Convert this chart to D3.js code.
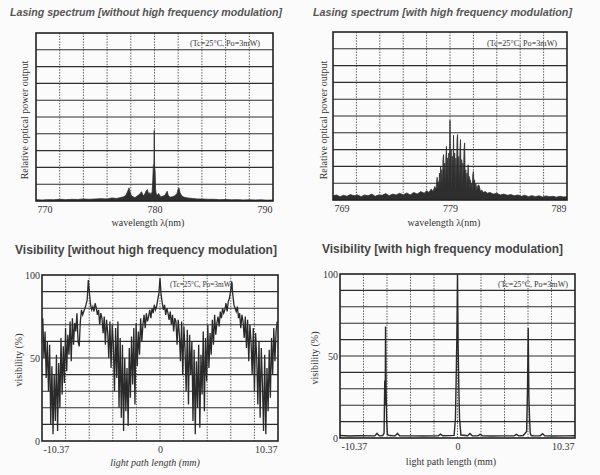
<!DOCTYPE html>
<html>
<head>
<meta charset="utf-8">
<script src="https://cdn.jsdelivr.net/npm/d3@7"></script>
<style>
  body { margin: 0; background: #fbfbfb; }
  svg { display: block; }
  .title { font-family: "Liberation Sans", Arial, sans-serif; font-weight: bold; }
  .lbl { font-family: "Liberation Serif", "Times New Roman", serif; fill: #333; }
</style>
</head>
<body>
<div id="chart"></div>
<script>
// Lasing spectrum / visibility, four panels

////////////////////////////////////////////////////////////////////////////////
// Data

// spectrum without HF modulation: wavelength (nm), relative output (grid units 0-10)
const spec1Wl = [770, 770.5, 771, 771.5, 772, 772.5, 773, 773.5, 774, 774.5, 775, 775.5, 776, 776.4, 776.8,
  777.1, 777.4, 777.6, 777.75, 777.85, 777.95, 778.05, 778.2, 778.35, 778.5, 778.65, 778.8, 778.9, 779.0,
  779.1, 779.2, 779.3, 779.4, 779.5, 779.6, 779.7, 779.8, 779.86, 779.9, 779.95, 779.98, 780.01, 780.05,
  780.09, 780.15, 780.25, 780.35, 780.45, 780.6, 780.75, 780.9, 781.0, 781.07, 781.15, 781.3, 781.5, 781.7,
  781.9, 782.0, 782.06, 782.15, 782.3, 782.5, 782.8, 783.2, 783.6, 784, 784.5, 785, 785.5, 786, 786.5, 787,
  787.5, 788, 788.5, 789, 789.5, 790];
const spec1Pw = [0.08, 0.06, 0.08, 0.07, 0.1, 0.08, 0.1, 0.09, 0.12, 0.1, 0.12, 0.14, 0.12, 0.18, 0.15,
  0.2, 0.25, 0.35, 0.6, 0.78, 0.5, 0.3, 0.25, 0.2, 0.28, 0.35, 0.45, 0.55, 0.4,
  0.3, 0.45, 0.6, 0.68, 0.4, 0.5, 0.35, 0.55, 1.3, 2.1, 2.2, 4.2, 2.0, 1.8,
  0.7, 0.4, 0.35, 0.45, 0.3, 0.25, 0.3, 0.35, 0.5, 0.58, 0.35, 0.22, 0.25, 0.3,
  0.45, 0.7, 0.78, 0.5, 0.3, 0.22, 0.18, 0.15, 0.12, 0.12, 0.1, 0.1, 0.08, 0.09, 0.07, 0.08,
  0.06, 0.07, 0.06, 0.07, 0.05, 0.06];

// spectrum with HF modulation
const spec2Wl = [769.0, 769.3, 769.6, 769.9, 770.2, 770.5, 770.8, 771.1, 771.4, 771.7, 772.0, 772.3, 772.6,
  772.9, 773.2, 773.5, 773.8, 774.1, 774.4, 774.7, 775.0, 775.3, 775.6, 775.9, 776.2, 776.5, 776.8, 777.0,
  777.2, 777.4, 777.55, 777.7, 777.8, 777.9, 777.95, 778.0, 778.05, 778.1, 778.15, 778.2, 778.25, 778.3,
  778.35, 778.4, 778.45, 778.5, 778.55, 778.6, 778.65, 778.7, 778.75, 778.8, 778.85, 778.9, 778.95, 779.0,
  779.05, 779.1, 779.15, 779.2, 779.25, 779.3, 779.35, 779.4, 779.45, 779.5, 779.55, 779.6, 779.65, 779.7,
  779.75, 779.8, 779.85, 779.9, 779.95, 780.0, 780.05, 780.1, 780.15, 780.2, 780.25, 780.3, 780.35, 780.4,
  780.45, 780.5, 780.55, 780.6, 780.65, 780.7, 780.75, 780.8, 780.85, 780.9, 780.95, 781.0, 781.05, 781.1,
  781.15, 781.2, 781.3, 781.4, 781.5, 781.6, 781.7, 781.85, 782.0, 782.2, 782.4, 782.7, 783.0, 783.3, 783.6,
  783.9, 784.2, 784.5, 784.8, 785.1, 785.4, 785.7, 786.0, 786.3, 786.6, 786.9, 787.2, 787.5, 787.8, 788.1,
  788.4, 788.7, 789.0];
const spec2Pw = [0.25, 0.3, 0.2, 0.28, 0.22, 0.32, 0.25, 0.3, 0.2, 0.3, 0.25, 0.35, 0.22,
  0.3, 0.28, 0.38, 0.25, 0.35, 0.3, 0.4, 0.3, 0.42, 0.3, 0.45, 0.35, 0.5, 0.4, 0.55,
  0.45, 0.65, 0.5, 0.8, 0.6, 1.35, 0.7, 1.1, 0.6, 1.6, 0.8, 2.0, 0.9, 1.8,
  0.7, 2.4, 2.7, 1.2, 2.2, 0.8, 2.6, 3.2, 1.4, 2.5, 0.9, 2.8, 1.5, 4.75,
  1.8, 3.0, 0.6, 2.6, 1.2, 3.85, 1.5, 2.8, 0.5, 2.5, 1.0, 3.6, 3.9, 1.2,
  2.6, 0.7, 2.9, 3.6, 1.0, 2.4, 0.6, 2.2, 1.3, 3.0, 3.4, 1.1, 1.8, 0.5,
  1.6, 1.0, 2.1, 0.8, 1.4, 0.6, 1.2, 0.7, 1.0, 0.5, 1.5, 1.7, 0.8, 1.2,
  0.5, 1.0, 0.6, 0.9, 0.85, 0.5, 0.6, 0.45, 0.5, 0.4, 0.45, 0.35, 0.4, 0.3, 0.35,
  0.28, 0.32, 0.25, 0.3, 0.22, 0.28, 0.2, 0.26, 0.2, 0.25, 0.18, 0.24, 0.2, 0.22, 0.17,
  0.22, 0.18, 0.2];

// visibility without HF modulation (%), sampled every 0.1 mm from -10.3 mm
const visStart = -10.3;
const visStep = 0.1;
const visValues = [
  74, 50, 66, 38, 60, 30, 58, 10, 45, 4,
  40, 12, 52, 6, 47, 20, 62, 28, 57, 35,
  68, 42, 64, 52, 72, 48, 74, 58, 71, 66,
  77, 60, 57, 72, 79, 76, 78, 80, 82, 85,
  97, 89, 82, 79, 81, 78, 83, 80, 76, 79,
  70, 77, 74, 65, 75, 58, 73, 66, 50, 72,
  44, 70, 58, 30, 68, 38, 72, 20, 62, 14,
  58, 6, 50, 18, 44, 9, 56, 26, 63, 34,
  68, 22, 71, 45, 66, 52, 74, 60, 70, 76,
  68, 77, 72, 75, 79, 74, 80, 77, 82, 79,
  81, 85, 89, 98, 88, 83, 79, 82, 76, 80,
  77, 73, 78, 70, 76, 66, 74, 72, 58, 73,
  64, 48, 72, 40, 69, 55, 30, 67, 22, 64,
  40, 60, 12, 55, 4, 48, 20, 58, 8, 52,
  28, 66, 18, 62, 36, 70, 44, 65, 52, 73,
  58, 76, 64, 71, 75, 69, 78, 74, 80, 77,
  79, 83, 78, 84, 86, 90, 96, 88, 82, 80,
  78, 81, 74, 77, 68, 76, 72, 62, 75, 56,
  73, 48, 70, 60, 40, 68, 30, 65, 50, 22,
  60, 14, 56, 35, 6, 52, 4, 44, 18, 55,
  26, 62, 40, 68, 48, 66, 72];

// visibility with HF modulation
const vis2X = [-10.37, -9.5, -8.8, -7.3, -7.1, -6.9, -6.6, -6.48, -6.42, -6.38, -6.35, -6.3, -6.25, -6.18,
  -6.0, -5.5, -5.3, -5.1, -4.0, -3.0, -2.0, -1.7, -1.5, -1.3, -0.3, -0.18, -0.12, -0.06, 0, 0.06, 0.12, 0.18,
  0.3, 0.9, 1.1, 1.3, 1.8, 2.0, 2.2, 3.0, 4.0, 5.0, 5.2, 5.4, 5.8, 6.1, 6.18, 6.24, 6.3, 6.36, 6.42, 6.5,
  6.7, 7.3, 7.5, 7.7, 8.5, 9.5, 10.37];
const vis2Y = [1.5, 1.2, 1.4, 1.3, 2.8, 1.3, 1.5, 3, 35, 20, 68, 30, 10, 2,
  1.5, 1.3, 2.8, 1.3, 1.3, 1.2, 1.3, 1.4, 2.4, 1.4, 1.6, 12, 35, 60, 100, 55, 30, 12,
  1.8, 1.4, 2.8, 1.4, 1.3, 2.2, 1.3, 1.2, 1.3, 1.3, 2.2, 1.3, 1.5, 4, 30, 67, 25, 12, 3, 1.5,
  1.4, 1.3, 2.6, 1.3, 1.2, 1.3, 1.4];

////////////////////////////////////////////////////////////////////////////////
// Setup
const svg = d3.select('#chart').append('svg')
  .attr('width', 600)
  .attr('height', 475);

const serif = '"Liberation Serif", "Times New Roman", serif';

function drawPanel (o) {
  const x = d3.scaleLinear().domain(o.xDomain).range([o.left, o.right]);
  const y = d3.scaleLinear().domain(o.yDomain).range([o.bottom, o.top]);
  const g = svg.append('g');

  const clipId = 'clip' + o.id;
  g.append('clipPath').attr('id', clipId)
    .append('rect')
    .attr('x', o.left).attr('y', o.top)
    .attr('width', o.right - o.left).attr('height', o.bottom - o.top);

  // grid: 10 rows (solid) and 10 columns (dotted)
  const yStep = (o.yDomain[1] - o.yDomain[0]) / 10;
  const xStep = (o.xDomain[1] - o.xDomain[0]) / 10;
  g.selectAll('.hgrid')
    .data(d3.range(1, 10).map(k => o.yDomain[0] + k * yStep))
    .enter().append('line')
    .attr('stroke', '#2e2e2e')
    .attr('stroke-width', 1.1)
    .attr('x1', o.left).attr('x2', o.right)
    .attr('y1', d => y(d)).attr('y2', d => y(d));

  g.selectAll('.vgrid')
    .data(d3.range(1, 10).map(k => o.xDomain[0] + k * xStep))
    .enter().append('line')
    .attr('stroke', '#444')
    .attr('stroke-width', 0.9)
    .attr('stroke-dasharray', '1.4,1.4')
    .attr('x1', d => x(d)).attr('x2', d => x(d))
    .attr('y1', o.top).attr('y2', o.bottom);

  // curve
  const pts = o.xs.map((d, i) => [d, o.ys[i]]);
  if (o.fill) {
    const area = d3.area()
      .x(d => x(d[0]))
      .y0(o.bottom)
      .y1(d => y(d[1]));
    g.append('path')
      .datum(pts)
      .attr('clip-path', `url(#${clipId})`)
      .attr('fill', '#2e2e2e')
      .attr('stroke', '#2e2e2e')
      .attr('stroke-width', 0.8)
      .attr('d', area);
  } else {
    const line = d3.line()
      .x(d => x(d[0]))
      .y(d => y(d[1]));
    g.append('path')
      .datum(pts)
      .attr('clip-path', `url(#${clipId})`)
      .attr('fill', 'none')
      .attr('stroke', '#2a2a2a')
      .attr('stroke-width', o.lineWidth)
      .attr('stroke-linejoin', 'miter')
      .attr('d', line);
  }

  // frame
  g.append('rect')
    .attr('x', o.left).attr('y', o.top)
    .attr('width', o.right - o.left).attr('height', o.bottom - o.top)
    .attr('fill', 'none')
    .attr('stroke', '#222')
    .attr('stroke-width', 1.6);

  // x tick labels
  const n = o.xTicks.length;
  const xAxis = g.append('g')
    .attr('transform', `translate(0 ${o.bottom})`)
    .call(d3.axisBottom(x).tickValues(o.xTicks).tickSize(0).tickPadding(5)
      .tickFormat((d, i) => o.xTickText[i]));
  xAxis.select('.domain').remove();
  xAxis.selectAll('text')
    .attr('font-family', serif)
    .attr('font-size', 10)
    .attr('fill', '#333')
    .attr('text-anchor', (d, i) => i === 0 ? 'start' : (i === n - 1 ? 'end' : 'middle'))
    .attr('dx', (d, i) => i === 0 ? 1 : (i === n - 1 ? -1 : 0));

  // y tick labels
  if (o.yTicks) {
    const yAxis = g.append('g')
      .attr('transform', `translate(${o.left} 0)`)
      .call(d3.axisLeft(y).tickValues(o.yTicks).tickSize(0).tickPadding(2));
    yAxis.select('.domain').remove();
    yAxis.selectAll('text')
      .attr('font-family', serif)
      .attr('font-size', 10)
      .attr('fill', '#333');
  }

  // axis titles
  g.append('text')
    .attr('class', 'lbl')
    .attr('font-size', 10)
    .attr('font-style', o.xItalic ? 'italic' : 'normal')
    .attr('text-anchor', 'middle')
    .attr('x', o.xLabelPos[0])
    .attr('y', o.xLabelPos[1])
    .text(o.xLabel);

  g.append('text')
    .attr('class', 'lbl')
    .attr('font-size', 10)
    .attr('text-anchor', 'middle')
    .attr('transform', `translate(${o.yLabelPos[0]} ${o.yLabelPos[1]}) rotate(-90)`)
    .text(o.yLabel);

  // conditions note
  g.append('text')
    .attr('class', 'lbl')
    .attr('font-size', 8)
    .attr('x', o.notePos[0])
    .attr('y', o.notePos[1])
    .attr('textLength', o.notePos[2])
    .attr('lengthAdjust', 'spacingAndGlyphs')
    .text('(Tc=25°C, Po=3mW)');

  // panel title
  g.append('text')
    .attr('class', 'title')
    .attr('font-size', o.titleSize)
    .attr('font-style', o.titleItalic ? 'italic' : 'normal')
    .attr('fill', o.titleColor)
    .attr('x', o.titlePos[0])
    .attr('y', o.titlePos[1])
    .attr('textLength', o.titlePos[2])
    .attr('lengthAdjust', 'spacingAndGlyphs')
    .text(o.title);
}

drawPanel({
  id: 1, left: 36, right: 273, top: 33, bottom: 201,
  xDomain: [770, 790], yDomain: [0, 10],
  xs: spec1Wl, ys: spec1Pw, fill: true,
  xTicks: [770, 780, 790], xTickText: ['770', '780', '790'],
  xLabel: 'wavelength  λ(nm)', xLabelPos: [148, 226],
  yLabel: 'Relative optical power output', yLabelPos: [27.5, 120],
  notePos: [190, 46, 70],
  title: 'Lasing spectrum [without high frequency modulation]',
  titlePos: [10, 16, 272], titleSize: 11, titleItalic: true, titleColor: '#555'
});

drawPanel({
  id: 2, left: 333, right: 567, top: 32, bottom: 200,
  xDomain: [769, 789], yDomain: [0, 10],
  xs: spec2Wl, ys: spec2Pw, fill: true,
  xTicks: [769, 779, 789], xTickText: ['769', '779', '789'],
  xLabel: 'wavelength  λ(nm)', xLabelPos: [444, 226],
  yLabel: 'Relative optical power output', yLabelPos: [326.5, 120],
  notePos: [487, 46, 70],
  title: 'Lasing spectrum [with high frequency modulation]',
  titlePos: [313, 16, 259], titleSize: 11, titleItalic: true, titleColor: '#555'
});

drawPanel({
  id: 3, left: 42, right: 278, top: 275, bottom: 441,
  xDomain: [-10.37, 10.37], yDomain: [0, 100],
  xs: visValues.map((v, i) => visStart + i * visStep), ys: visValues, fill: false, lineWidth: 1.3,
  xTicks: [-10.37, 0, 10.37], xTickText: ['-10.37', '0', '10.37'],
  yTicks: [0, 50, 100],
  xLabel: 'light path length  (mm)', xLabelPos: [155, 466], xItalic: true,
  yLabel: 'visibility (%)', yLabelPos: [22, 360],
  notePos: [170, 287, 63],
  title: 'Visibility [without high frequency modulation]',
  titlePos: [15, 254, 262], titleSize: 12.5, titleItalic: false, titleColor: '#444'
});

drawPanel({
  id: 4, left: 340, right: 575, top: 274, bottom: 438,
  xDomain: [-10.37, 10.37], yDomain: [0, 100],
  xs: vis2X, ys: vis2Y, fill: false, lineWidth: 1.4,
  xTicks: [-10.37, 0, 10.37], xTickText: ['-10.37', '0', '10.37'],
  yTicks: [0, 50, 100],
  xLabel: 'light path length  (mm)', xLabelPos: [451, 465], xItalic: false,
  yLabel: 'visibility (%)', yLabelPos: [318, 358],
  notePos: [498, 287, 70],
  title: 'Visibility [with high frequency modulation]',
  titlePos: [322, 253, 241], titleSize: 12.5, titleItalic: false, titleColor: '#444'
});
</script>
</body>
</html>
